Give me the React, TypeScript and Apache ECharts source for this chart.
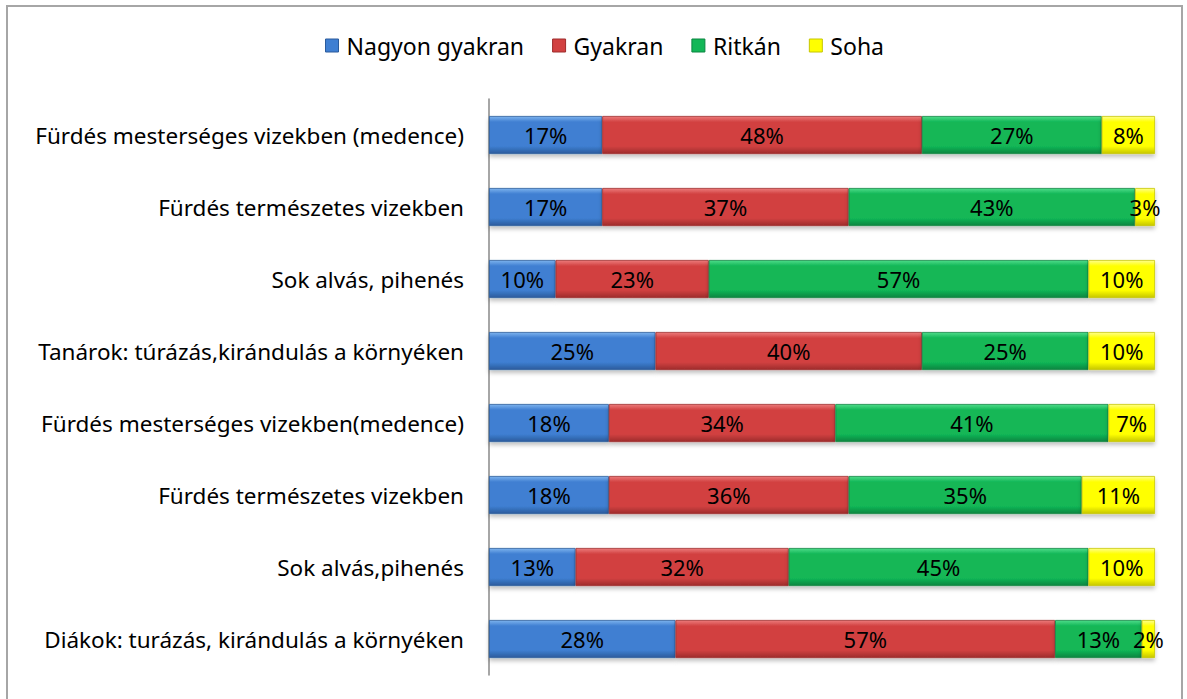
import React, { useEffect, useRef } from "react";
import * as echarts from "echarts";

const categories = [
  "Fürdés mesterséges vizekben (medence)",
  "Fürdés természetes vizekben",
  "Sok alvás, pihenés",
  "Tanárok: túrázás,kirándulás a környéken",
  "Fürdés mesterséges vizekben(medence)",
  "Fürdés természetes vizekben",
  "Sok alvás,pihenés",
  "Diákok: turázás, kirándulás a környéken",
];
const seriesNames = ["Nagyon gyakran", "Gyakran", "Ritkán", "Soha"];
const nagyonGyakran = [17, 17, 10, 25, 18, 18, 13, 28];
const gyakran = [48, 37, 23, 40, 34, 36, 32, 57];
const ritkan = [27, 43, 57, 25, 41, 35, 45, 13];
const soha = [8, 3, 10, 10, 7, 11, 10, 2];

const palettes = [
  ["#7DB3EE", "#3F7FD2", "#2A5B9C"],
  ["#EC7B7B", "#D24141", "#9E2C2C"],
  ["#4EDC8A", "#12B757", "#0B8540"],
  ["#FFFF8A", "#FFFF00", "#C6C600"],
];

const grad = (c: string[]) =>
  new echarts.graphic.LinearGradient(0, 0, 0, 1, [
    { offset: 0, color: c[0] },
    { offset: 0.15, color: c[1] },
    { offset: 0.8, color: c[1] },
    { offset: 1, color: c[2] },
  ]);

const FONT = "'Noto Sans', sans-serif";

export default function App() {
  const ref = useRef<HTMLDivElement>(null);
  useEffect(() => {
    if (!ref.current) return;
    const chart = echarts.init(ref.current, undefined, { renderer: "svg" });
    const dataSets = [nagyonGyakran, gyakran, ritkan, soha];
    chart.setOption({
      animation: false,
      backgroundColor: "#ffffff",
      textStyle: { fontFamily: FONT },
      graphic: [
        {
          type: "rect",
          shape: { x: 7, y: 6, width: 1175, height: 700 },
          style: { fill: "none", stroke: "#A6A6A6", lineWidth: 2 },
          silent: true,
        },
      ],
      legend: {
        top: 29,
        left: 320,
        itemWidth: 13,
        itemHeight: 13,
        itemGap: 28,
        textStyle: { fontSize: 23, color: "#000", fontFamily: FONT, padding: [0, 0, 0, 3] },
        data: seriesNames.map((n, i) => ({
          name: n,
          icon: "rect",
          itemStyle: { color: palettes[i][1], borderColor: palettes[i][2], borderWidth: 1 },
        })),
      },
      grid: { left: 489, right: 32, top: 99, bottom: 24, containLabel: false },
      xAxis: {
        type: "value",
        min: 0,
        max: 100,
        show: false,
      },
      yAxis: {
        type: "category",
        inverse: true,
        data: categories,
        axisLine: { show: true, lineStyle: { color: "#888888", width: 1.5 } },
        axisTick: { show: false },
        axisLabel: {
          margin: 25,
          fontSize: 22.5,
          color: "#000",
          fontFamily: FONT,
        },
      },
      series: dataSets.map((d, i) => ({
        name: seriesNames[i],
        type: "bar",
        stack: "total",
        barWidth: 38,
        data: d,
        itemStyle: {
          color: grad(palettes[i]),
          borderColor: palettes[i][2],
          borderWidth: 0.8,
          shadowColor: "rgba(0,0,0,0.25)",
          shadowBlur: 4,
          shadowOffsetY: 3,
        },
        label: {
          show: true,
          position: "inside",
          formatter: "{c}%",
          fontSize: 22,
          color: "#000",
          fontFamily: FONT,
        },
      })),
    });
    return () => chart.dispose();
  }, []);
  return (
    <div
      ref={ref}
      style={{ position: "absolute", left: 0, top: 0, width: 1187, height: 699 }}
    />
  );
}
